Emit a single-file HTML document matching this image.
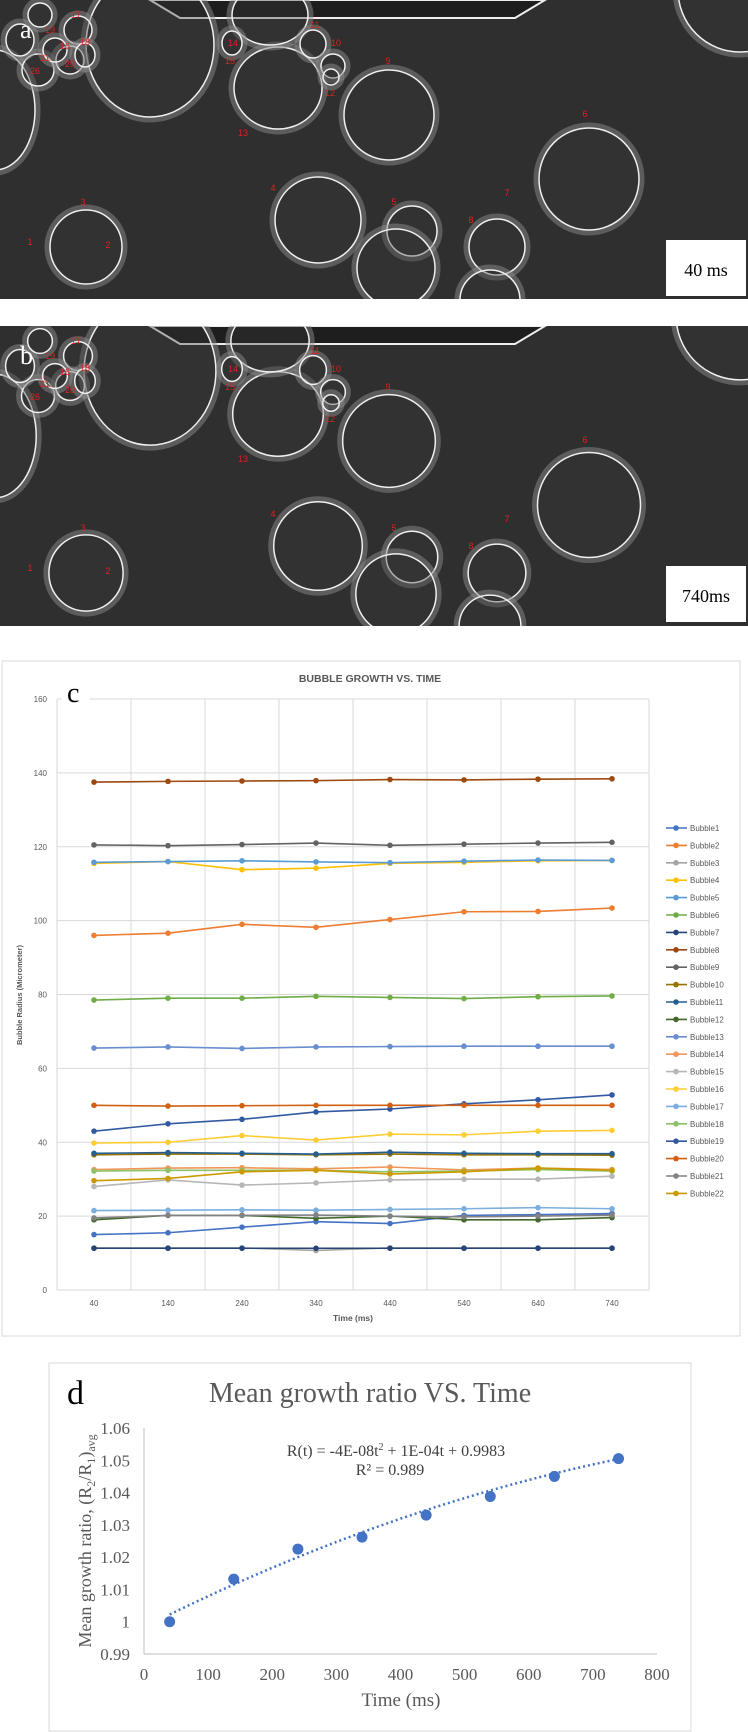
<!DOCTYPE html>
<html><head><meta charset="utf-8">
<style>
html,body{margin:0;padding:0;background:#fff;}
svg{display:block;}
</style></head>
<body>
<svg id="root" width="748" height="1732" viewBox="0 0 748 1732" xmlns="http://www.w3.org/2000/svg">
  <defs>
    <clipPath id="clipA"><rect x="0" y="0" width="748" height="299"/></clipPath>
    <clipPath id="clipB"><rect x="0" y="326" width="748" height="300"/></clipPath>
  </defs>
  <g id="panelA" clip-path="url(#clipA)"></g>
  <g id="panelB" clip-path="url(#clipB)"></g>
  <rect x="2" y="661" width="738" height="675" fill="#fff" stroke="#d9d9d9"/>
  <g id="chartC"></g>
  <rect x="49" y="1363" width="642" height="368" fill="#fff" stroke="#d9d9d9"/>
  <g id="chartD"></g>
</svg>
<script>
// ---------- chart c data ----------
const cTimes = [40,140,240,340,440,540,640,740];
const cTickLabels = [0,20,40,60,80,100,120,140,160];
const cNames = ["Bubble1","Bubble2","Bubble3","Bubble4","Bubble5","Bubble6","Bubble7","Bubble8","Bubble9","Bubble10","Bubble11","Bubble12","Bubble13","Bubble14","Bubble15","Bubble16","Bubble17","Bubble18","Bubble19","Bubble20","Bubble21","Bubble22"];
const b1 = [15,15.5,17,18.5,18,20.2,20.4,20.7];
const b2 = [96,96.6,99,98.2,100.3,102.4,102.5,103.4];
const b3 = [11.4,11.4,11.4,10.7,11.4,11.4,11.4,11.4];
const b4 = [115.5,116,113.8,114.2,115.5,115.8,116.2,116.3];
const b5 = [115.8,116,116.2,115.9,115.7,116.1,116.4,116.3];
const b6 = [78.5,79,79,79.5,79.2,78.9,79.4,79.6];
const b7 = [11.3,11.3,11.3,11.3,11.3,11.3,11.3,11.3];
const b8 = [137.5,137.7,137.8,137.9,138.2,138.1,138.3,138.4];
const b9 = [120.5,120.3,120.6,121,120.4,120.7,121,121.2];
const b10 = [36.6,36.8,36.8,36.6,36.8,36.6,36.6,36.5];
const b11 = [37,37.2,37,36.8,37.3,37,36.9,36.9];
const b12 = [19,20.2,20.2,19.4,20,19,19,19.6];
const b13 = [65.5,65.8,65.4,65.8,65.9,66,66,66];
const b14 = [32.6,33,33.1,32.8,33.3,32.5,33,32.6];
const b15 = [28,29.8,28.4,29,29.8,30,30,30.8];
const b16 = [39.8,40,41.8,40.6,42.2,42,43,43.2];
const b17 = [21.5,21.6,21.7,21.6,21.8,22,22.3,22];
const b18 = [32.2,32.4,32.4,32.4,32,32.2,32.6,32.2];
const b19 = [43,45,46.2,48.2,49,50.4,51.5,52.8];
const b20 = [50,49.8,49.9,50,50,50,50,50];
const b21 = [19.5,20.2,20.2,20.3,20,19.8,20,20.3];
const b22 = [29.6,30.2,32,32.4,31.4,32,33,32.4];
const cSeries = [b1,b2,b3,b4,b5,b6,b7,b8,b9,b10,b11,b12,b13,b14,b15,b16,b17,b18,b19,b20,b21,b22];
const cColors = ["#4472C4","#ED7D31","#A5A5A5","#FFC000","#5B9BD5","#70AD47","#264478","#9E480E","#636363","#997300","#255E91","#43682B","#698ED0","#F1975A","#B7B7B7","#FFCD33","#7CAFDD","#8CC168","#335AA1","#D26012","#828282","#CC9A00"];

// ---------- chart d data ----------
const dTimes = [40,140,240,340,440,540,640,740];
const dRatio = [1.000,1.0132,1.0225,1.0262,1.033,1.0388,1.045,1.0505];
const dXTicks = [0,100,200,300,400,500,600,700,800];
const dYTicks = [0.99,1,1.01,1.02,1.03,1.04,1.05,1.06];
const dTrendCoef = [-4e-8,1e-4,0.9983];

const NS = "http://www.w3.org/2000/svg";
function mk(parent, tag, attrs, text){
  const e = document.createElementNS(NS, tag);
  for (const k in attrs) e.setAttribute(k, attrs[k]);
  if (text !== undefined) e.textContent = text;
  parent.appendChild(e);
  return e;
}

// ---------- micrographs ----------
function micro(g, oy, label, timeText, grow){
  const bg = mk(g,"rect",{x:0,y:oy,width:748,height:300,fill:"#2f2f2f"});
  
  
  const bar = mk(g,"path",{d:`M150 ${oy} L545 ${oy} L515 ${oy+18} L180 ${oy+18} Z`,fill:"#1e1e1e",stroke:"#eee","stroke-width":2});
  
  
  const circles = [[150,45,64,72],[278,88,44,41],[389,115,45,45],[589,179,50,51],[86,247,36,37],[318,220,43,43],[412,231,25,25],[396,268,39,39],[497,247,28,28],[490,300,30,30],[270,15,38,30],[313,44,13,14],[333,66,12,12],[331,77,8,8],[232,43,10,12],[740,-10,62,62],[-5,110,40,60],[78,30,14,14],[38,70,16,16],[70,60,14,14],[55,50,12,12],[20,40,14,16],[40,15,12,12],[85,55,10,12]];
  circles.forEach(c=>{
    const glow = mk(g,"ellipse",{cx:c[0],cy:oy+c[1],rx:c[2]*grow+3,ry:c[3]*grow+3,fill:"none",stroke:"#8a8a8a","stroke-width":5,opacity:0.5});
    
    
    const e = mk(g,"ellipse",{cx:c[0],cy:oy+c[1],rx:c[2]*grow,ry:c[3]*grow,fill:"#3a3a3a","fill-opacity":0.35,stroke:"#f0f0f0","stroke-width":1.5});
    
    
  });
  const nums = [["17",76,14],["19",50,29],["18",85,41],["16",65,45],["21",45,57],["20",70,63],["26",35,70],["14",233,42],["15",230,60],["11",315,24],["10",336,42],["12",330,92],["13",243,132],["9",388,60],["6",585,113],["4",273,187],["3",83,201],["5",394,201],["7",507,192],["8",471,219],["1",30,241],["2",108,244]];
  nums.forEach(n=>{
    const t = mk(g,"text",{x:n[1],y:oy+n[2]+4,fill:"#e02020","font-size":9,"font-family":"Liberation Sans, sans-serif","text-anchor":"middle"},n[0]);
    
    
  });
  const L = mk(g,"text",{x:20,y:oy+38,fill:"#fff","font-size":26,"font-family":"Liberation Serif, serif"},label);
  
  
  const box = mk(g,"rect",{x:666,y:oy+240,width:80,height:56,fill:"#fff"});
  
  
  const tt = mk(g,"text",{x:706,y:oy+276,fill:"#000","font-size":18,"font-family":"Liberation Serif, serif","text-anchor":"middle"},timeText);
  
  
}
micro(document.getElementById("panelA"),0,"a","40 ms",1);
micro(document.getElementById("panelB"),326,"b","740ms",1.03);

// ---------- chart c ----------
const gc = document.getElementById("chartC");
const cx0 = 57, cStep = 74, cy0 = 1290, cyTop = 699;
function cX(i){ return cx0 + cStep/2 + i*cStep; }
function cY(v){ return cy0 - v/160*(cy0-cyTop); }
const SANS = "Liberation Sans, sans-serif";
cTickLabels.forEach(v=>{
  const l = mk(gc,"line",{x1:cx0,x2:cx0+8*cStep,y1:cY(v),y2:cY(v),stroke:"#d9d9d9","stroke-width":1});
  
  
  const t = mk(gc,"text",{x:47,y:cY(v)+3,fill:"#595959","font-size":8,"font-family":SANS,"text-anchor":"end"},String(v));
  
  
});
for(let i=0;i<=8;i++){
  const l = mk(gc,"line",{x1:cx0+i*cStep,x2:cx0+i*cStep,y1:cyTop,y2:cy0,stroke:"#d9d9d9","stroke-width":1});
  
  
}
cTimes.forEach((t,i)=>{
  const e = mk(gc,"text",{x:cX(i),y:1306,fill:"#595959","font-size":8,"font-family":SANS,"text-anchor":"middle"},String(t));
  
  
});
const cLetterBg = mk(gc,"rect",{x:62,y:672,width:28,height:34,fill:"#fff"});


const cLetter = mk(gc,"text",{x:67,y:702,fill:"#000","font-size":28,"font-family":"Liberation Serif, serif"},"c");


const cTitle = mk(gc,"text",{x:370,y:682,fill:"#595959","font-size":10.5,"font-weight":"bold","font-family":SANS,"text-anchor":"middle"},"BUBBLE GROWTH VS. TIME");


const cXt = mk(gc,"text",{x:353,y:1321,fill:"#595959","font-size":8.5,"font-weight":"bold","font-family":SANS,"text-anchor":"middle"},"Time (ms)");


const cYt = mk(gc,"text",{x:0,y:0,fill:"#595959","font-size":7.5,"font-weight":"bold","font-family":SANS,"text-anchor":"middle",transform:"translate(22,995) rotate(-90)"},"Bubble Radius (Micrometer)");


cSeries.forEach((s,k)=>{
  const pts = s.map((v,i)=>cX(i)+","+cY(v)).join(" ");
  const pl = mk(gc,"polyline",{points:pts,fill:"none",stroke:cColors[k],"stroke-width":1.6});
  
  
  s.forEach((v,i)=>{
    const c = mk(gc,"circle",{cx:cX(i),cy:cY(v),r:2.8,fill:cColors[k]});
    
    
  });
  const ly = 828 + k*17.4;
  const ll = mk(gc,"line",{x1:666,x2:687,y1:ly,y2:ly,stroke:cColors[k],"stroke-width":1.6});
  
  
  const lc = mk(gc,"circle",{cx:676,cy:ly,r:2.8,fill:cColors[k]});
  
  
  const lt = mk(gc,"text",{x:690,y:ly+3,fill:"#595959","font-size":8,"font-family":SANS},cNames[k]);
  
  
});

// ---------- chart d ----------
const gd = document.getElementById("chartD");
const SERIF = "Liberation Serif, serif";
const dx0 = 144, dx1 = 657, dy0 = 1654, dy1 = 1428;
function dX(t){ return dx0 + t/800*(dx1-dx0); }
function dY(v){ return dy0 - (v-0.99)/0.07*(dy0-dy1); }
const dAxY = mk(gd,"line",{x1:dx0,x2:dx0,y1:dy1,y2:dy0,stroke:"#bfbfbf","stroke-width":1});


const dAxX = mk(gd,"line",{x1:dx0,x2:dx1,y1:dy0,y2:dy0,stroke:"#bfbfbf","stroke-width":1});


dYTicks.forEach(v=>{
  const t = mk(gd,"text",{x:130,y:dY(v)+6,fill:"#595959","font-size":17,"font-family":SERIF,"text-anchor":"end"},String(v));
  
  
});
dXTicks.forEach(v=>{
  const t = mk(gd,"text",{x:dX(v),y:1680,fill:"#595959","font-size":17,"font-family":SERIF,"text-anchor":"middle"},String(v));
  
  
});
const dLetter = mk(gd,"text",{x:67,y:1404,fill:"#000","font-size":34,"font-family":SERIF},"d");


const dTitle = mk(gd,"text",{x:370,y:1402,fill:"#595959","font-size":28,"font-family":SERIF,"text-anchor":"middle"},"Mean growth ratio VS. Time");


const eq = mk(gd,"text",{x:396,y:1456,fill:"#404040","font-size":16,"font-family":SERIF,"text-anchor":"middle"});
eq.innerHTML = 'R(t) = -4E-08t<tspan dy="-6" font-size="10">2</tspan><tspan dy="6"> + 1E-04t + 0.9983</tspan>';


const r2 = mk(gd,"text",{x:390,y:1475,fill:"#404040","font-size":16,"font-family":SERIF,"text-anchor":"middle"},"R² = 0.989");


const dXt = mk(gd,"text",{x:401,y:1706,fill:"#595959","font-size":19,"font-family":SERIF,"text-anchor":"middle"},"Time (ms)");


const dYt = mk(gd,"text",{x:0,y:0,fill:"#595959","font-size":18,"font-family":SERIF,"text-anchor":"middle",transform:"translate(91,1541) rotate(-90)"});
dYt.innerHTML = 'Mean growth ratio, (R<tspan dy="4" font-size="12">2</tspan><tspan dy="-4">/R</tspan><tspan dy="4" font-size="12">1</tspan><tspan dy="-4">)</tspan><tspan dy="4" font-size="12">avg</tspan>';


let tp = [];
for(let t=dTimes[0]; t<=dTimes[dTimes.length-1]; t+=10){
  const v = dTrendCoef[0]*t*t + dTrendCoef[1]*t + dTrendCoef[2];
  tp.push(dX(t)+","+dY(v));
}
const trend = mk(gd,"polyline",{points:tp.join(" "),fill:"none",stroke:"#4472C4","stroke-width":2.5,"stroke-dasharray":"2 3"});


dTimes.forEach((t,i)=>{
  const c = mk(gd,"circle",{cx:dX(t),cy:dY(dRatio[i]),r:5.5,fill:"#4472C4"});
  
  
});
</script>
</body></html>
